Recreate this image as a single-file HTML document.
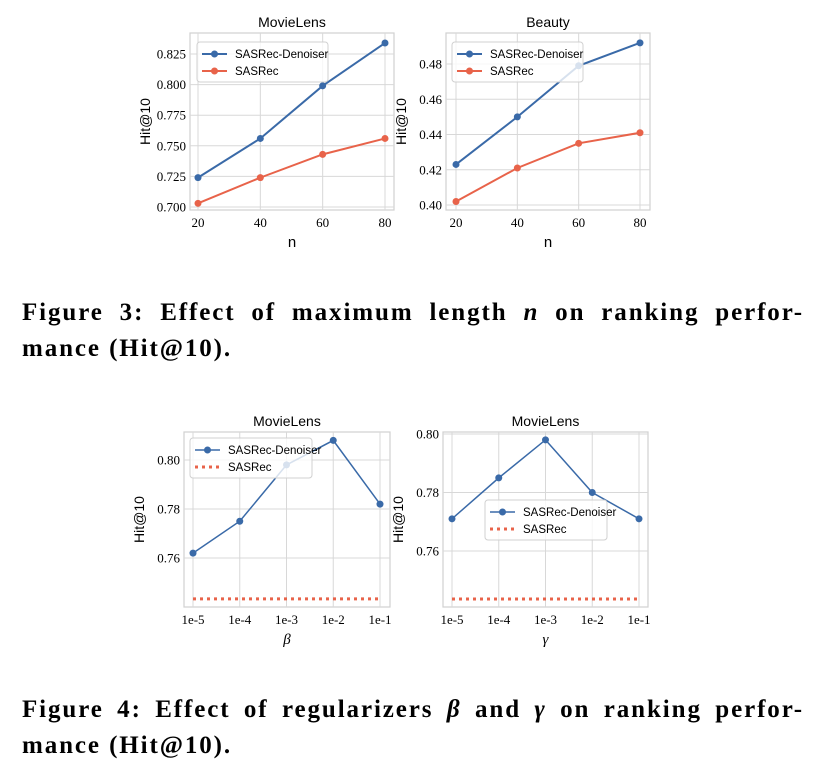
<!DOCTYPE html>
<html><head><meta charset="utf-8"><style>
body{margin:0;background:#fff;width:822px;height:778px;overflow:hidden;position:relative;font-family:"Liberation Sans",sans-serif}
.cap{position:absolute;left:22px;width:782px;font-family:"Liberation Serif",serif;font-weight:bold;font-size:25px;line-height:36px;color:#000;white-space:nowrap;letter-spacing:1.9px}
.j{text-align:justify;text-align-last:justify}
svg{position:absolute;left:0;top:0}
</style></head><body>
<svg id="s" width="822" height="778"></svg>
<div>
<div class="cap j" style="top:295px;white-space:normal">Figure 3: Effect of maximum length <i>n</i> on ranking perfor-</div>
<div class="cap" style="top:331px">mance (Hit@10).</div></div>
<div>
<div class="cap j" style="top:692px;white-space:normal">Figure 4: Effect of regularizers <i>β</i> and <i>γ</i> on ranking perfor-</div>
<div class="cap" style="top:728px">mance (Hit@10).</div></div>
<script>
const nCats=["20","40","60","80"];
const mlDen=[0.724,0.756,0.799,0.834];
const mlSas=[0.703,0.724,0.743,0.756];
const mlTicks=[0.700,0.725,0.750,0.775,0.800,0.825];
const bDen=[0.423,0.450,0.479,0.492];
const bSas=[0.402,0.421,0.435,0.441];
const bTicks=[0.40,0.42,0.44,0.46,0.48];
const regCats=["1e-5","1e-4","1e-3","1e-2","1e-1"];
const betaDen=[0.762,0.775,0.798,0.808,0.782];
const betaSas=0.7433;
const betaTicks=[0.76,0.78,0.80];
const gamDen=[0.771,0.785,0.798,0.780,0.771];
const gamSas=0.7436;
const gamTicks=[0.76,0.78,0.80];

const S=document.getElementById('s');const NS='http://www.w3.org/2000/svg';
function el(t,a,txt){const e=document.createElementNS(NS,t);for(const k in a)e.setAttribute(k,a[k]);if(txt!==undefined)e.textContent=txt;S.appendChild(e);return e;}
const BLUE='#3a6aa8',RED='#e8634a';
function chart(o){
  const yv=v=>o.ya+(v-o.v0)*(o.yb-o.ya)/(o.v1-o.v0);
  const xv=i=>o.xa+i*(o.xb-o.xa)/(o.cats.length-1);
  let r=el('rect',{x:o.L,y:o.T,width:o.R-o.L,height:o.B-o.T,fill:'none',stroke:'#d0d0d0','stroke-width':1.2});
  
  o.cats.forEach((c,i)=>{const x=xv(i);
    let g=el('line',{x1:x,x2:x,y1:o.T,y2:o.B,stroke:'#d8d8d8','stroke-width':1});
    
    let t=el('text',{x:x,y:o.B+17,'text-anchor':'middle','font-size':13,'font-family':'Liberation Serif, serif'},c);
    });
  o.ticks.forEach(v=>{const y=yv(v);
    let g=el('line',{x1:o.L,x2:o.R,y1:y,y2:y,stroke:'#d8d8d8','stroke-width':1});
    
    let t=el('text',{x:o.L-4,y:y+4.5,'text-anchor':'end','font-size':13,'font-family':'Liberation Serif, serif'},v.toFixed(o.dec));
    });
  let ti=el('text',{x:(o.L+o.R)/2,y:o.T-6,'text-anchor':'middle','font-size':14},o.title);
  
  let xl=el('text',{x:(o.L+o.R)/2,y:o.B+37,'text-anchor':'middle','font-size':15,'font-style':o.xital?'italic':'normal','font-family':o.xital?'Liberation Serif, serif':'Liberation Sans, sans-serif'},o.xlab);
  
  const my=(o.T+o.B)/2;
  let yl=el('text',{x:o.L-40,y:my,'text-anchor':'middle','font-size':14,transform:`rotate(-90 ${o.L-40} ${my})`},'Hit@10');
  
  if(Array.isArray(o.sas)){
    let p=el('polyline',{points:o.sas.map((v,i)=>xv(i)+','+yv(v)).join(' '),fill:'none',stroke:RED,'stroke-width':2});
    
    o.sas.forEach((v,i)=>{let c=el('circle',{cx:xv(i),cy:yv(v),r:3.5,fill:RED});
      });
  } else {
    let p=el('line',{x1:xv(0),x2:xv(o.cats.length-1),y1:yv(o.sas),y2:yv(o.sas),stroke:RED,'stroke-width':3,'stroke-dasharray':'3,4'});
    
  }
  let p=el('polyline',{points:o.den.map((v,i)=>xv(i)+','+yv(v)).join(' '),fill:'none',stroke:BLUE,'stroke-width':o.lw});
  
  o.den.forEach((v,i)=>{let c=el('circle',{cx:xv(i),cy:yv(v),r:3.5,fill:BLUE});
    });
  const [lx,ly,lw]=o.leg;
  let lr=el('rect',{x:lx,y:ly,width:lw,height:40,rx:3,fill:'rgba(255,255,255,0.8)',stroke:'#d0d0d0'});
  
  el('line',{x1:lx+5,x2:lx+30,y1:ly+12,y2:ly+12,stroke:BLUE,'stroke-width':o.lw});
  el('circle',{cx:lx+17.5,cy:ly+12,r:3.5,fill:BLUE});
  let a=el('text',{x:lx+38,y:ly+16,'font-size':11.5},'SASRec-Denoiser');
  
  if(o.dotLeg){el('line',{x1:lx+5,x2:lx+30,y1:ly+29,y2:ly+29,stroke:RED,'stroke-width':3,'stroke-dasharray':'3,4'});}
  else{el('line',{x1:lx+5,x2:lx+30,y1:ly+29,y2:ly+29,stroke:RED,'stroke-width':2});el('circle',{cx:lx+17.5,cy:ly+29,r:3.5,fill:RED});}
  let b=el('text',{x:lx+38,y:ly+33,'font-size':11.5},'SASRec');
  
}
chart({id:'movielens-n',title:'MovieLens',xlab:'n',cats:nCats,den:mlDen,sas:mlSas,ticks:mlTicks,dec:3,L:190,R:394,T:33,B:210,xa:198,xb:385,v0:0.700,v1:0.825,ya:207,yb:54,leg:[197,42,131],lw:2});
chart({id:'beauty-n',title:'Beauty',xlab:'n',cats:nCats,den:bDen,sas:bSas,ticks:bTicks,dec:2,L:446,R:650,T:33,B:210,xa:456,xb:640,v0:0.40,v1:0.48,ya:205,yb:64,leg:[452,42,131],lw:2});
chart({id:'movielens-beta',title:'MovieLens',xlab:'β',xital:true,cats:regCats,den:betaDen,sas:betaSas,ticks:betaTicks,dec:2,L:184,R:390,T:432,B:607,xa:193,xb:380,v0:0.76,v1:0.80,ya:558,yb:460,leg:[190,438,122],lw:1.5,dotLeg:true});
chart({id:'movielens-gamma',title:'MovieLens',xlab:'γ',xital:true,cats:regCats,den:gamDen,sas:gamSas,ticks:gamTicks,dec:2,L:443,R:648,T:432,B:607,xa:452,xb:639,v0:0.76,v1:0.80,ya:551,yb:434,leg:[485,500,122],lw:1.5,dotLeg:true});
</script>
</body></html>
